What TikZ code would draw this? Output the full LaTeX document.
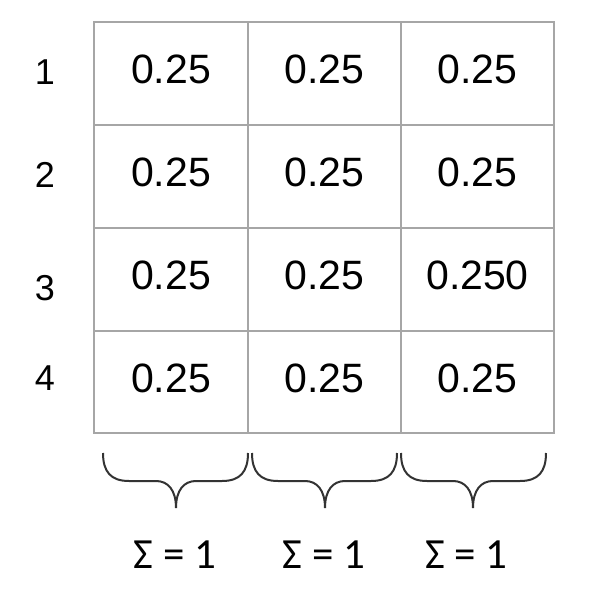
\documentclass[tikz,border=0pt]{standalone}
\usepackage{fontspec}
\setmainfont{Liberation Sans}
\newfontfamily\sumfont{Carlito}
\begin{document}
\begin{tikzpicture}[x=1pt,y=-1pt,
  cellbox/.style={draw=gridgray, line width=2pt, minimum width=153.3pt, minimum height=102.75pt, inner sep=0pt, text depth=8pt, font=\fontsize{41}{41}\selectfont},
  rowlab/.style={inner sep=0pt, font=\fontsize{36}{36}\selectfont},
  sumlab/.style={inner sep=0pt, font=\sumfont\fontsize{43}{43}\selectfont},
  bracepath/.style={draw=bracegray, line width=2pt}]
\definecolor{gridgray}{HTML}{A6A6A6}
\definecolor{bracegray}{HTML}{333333}
\useasboundingbox (0,0) rectangle (594,600);
% cells
\foreach \r/\yc in {1/73.5, 2/176.5, 3/279.5, 4/382} {
  \foreach \c/\xc in {1/171, 2/324.5, 3/477.5} {
    \ifnum\r=3 \ifnum\c=3
      \node[cellbox] (c\r\c) at (\xc,\yc) {0.250};
    \else
      \node[cellbox] (c\r\c) at (\xc,\yc) {0.25};
    \fi\else
      \node[cellbox] (c\r\c) at (\xc,\yc) {0.25};
    \fi
  }
}
% row labels
\node[rowlab] (r1) at (45,72) {1};
\node[rowlab] (r2) at (45,175) {2};
\node[rowlab] (r3) at (45,288) {3};
\node[rowlab] (r4) at (45,378) {4};
% braces
\foreach \xa/\m/\xb [count=\i] in {103/176/248, 252/325/397, 401/473/546} {
  \draw[bracepath] (\xa,453) .. controls (\xa,472) and (\xa+8,481) .. (\xa+26,481)
    -- (\m-20,481) .. controls (\m-8,481) and (\m,490) .. (\m,508)
    .. controls (\m,490) and (\m+8,481) .. (\m+20,481)
    -- (\xb-26,481) .. controls (\xb-8,481) and (\xb,472) .. (\xb,453);
}
% sum labels
\node[sumlab] (s1) at (175,554.5) {Σ = 1};
\node[sumlab] (s2) at (324,554.5) {Σ = 1};
\node[sumlab] (s3) at (466.5,554.5) {Σ = 1};
\end{tikzpicture}
\end{document}
